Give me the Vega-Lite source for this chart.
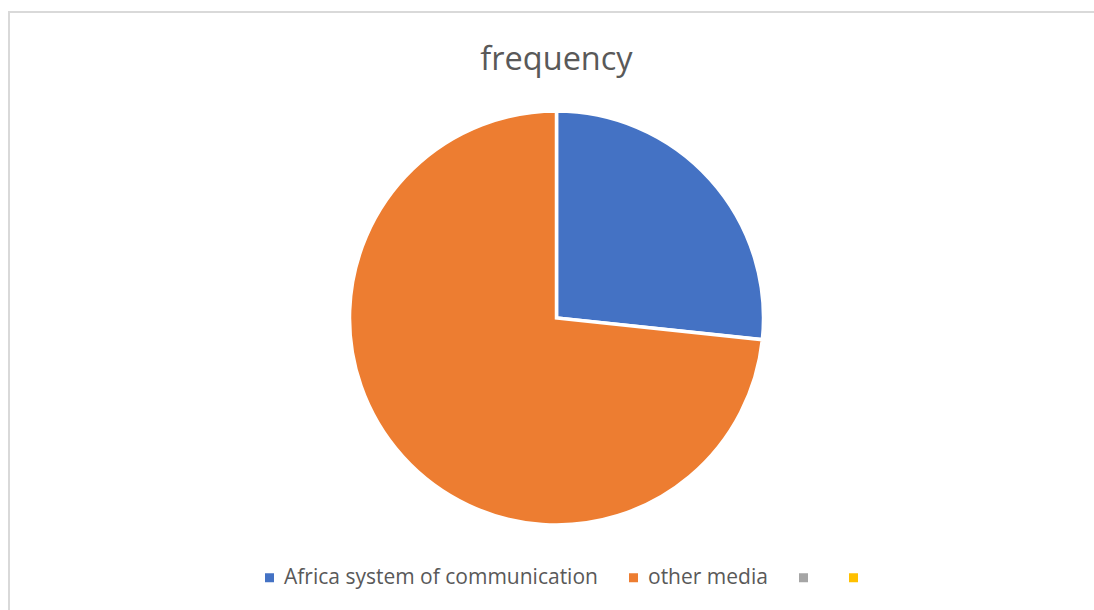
{
  "$schema": "https://vega.github.io/schema/vega-lite/v6.json",
  "width": 1120,
  "height": 620,
  "autosize": {"type": "none"},
  "padding": {"left": 9, "top": 12, "right": 0, "bottom": 0},
  "background": "white",
  "view": {"stroke": "#d9d9d9", "strokeWidth": 2, "fill": "white"},
  "title": {
    "text": "frequency",
    "anchor": "middle",
    "frame": "group",
    "offset": -64,
    "dx": -12.5,
    "fontSize": 32.5,
    "font": "Open Sans",
    "fontWeight": "normal",
    "color": "#595959"
  },
  "data": {
    "values": [
      {"category": "Africa system of communication", "frequency": 40, "idx": 1},
      {"category": "other media", "frequency": 110, "idx": 2},
      {"category": " ", "frequency": 0, "idx": 3},
      {"category": "  ", "frequency": 0, "idx": 4}
    ]
  },
  "transform": [{"filter": "datum.frequency > 0"}],
  "mark": {
    "type": "arc",
    "outerRadius": 207,
    "stroke": "white",
    "strokeWidth": 3.5,
    "xOffset": -12.5,
    "yOffset": -4
  },
  "encoding": {
    "theta": {"field": "frequency", "type": "quantitative", "stack": true},
    "order": {"field": "idx", "type": "quantitative"},
    "color": {
      "field": "category",
      "type": "nominal",
      "scale": {
        "domain": ["Africa system of communication", "other media", " ", "  "],
        "range": ["#4472C4", "#ED7D31", "#A5A5A5", "#FFC000"]
      },
      "legend": {
        "orient": "none",
        "legendX": 250,
        "legendY": 555,
        "direction": "horizontal",
        "title": null,
        "symbolType": "square",
        "symbolSize": 81,
        "symbolStrokeWidth": 0,
        "labelFont": "Open Sans",
        "labelFontSize": 21,
        "labelLimit": 0,
        "labelColor": "#595959",
        "columnPadding": 25,
        "labelOffset": 4,
        "symbolOffset": 0
      }
    }
  }
}
